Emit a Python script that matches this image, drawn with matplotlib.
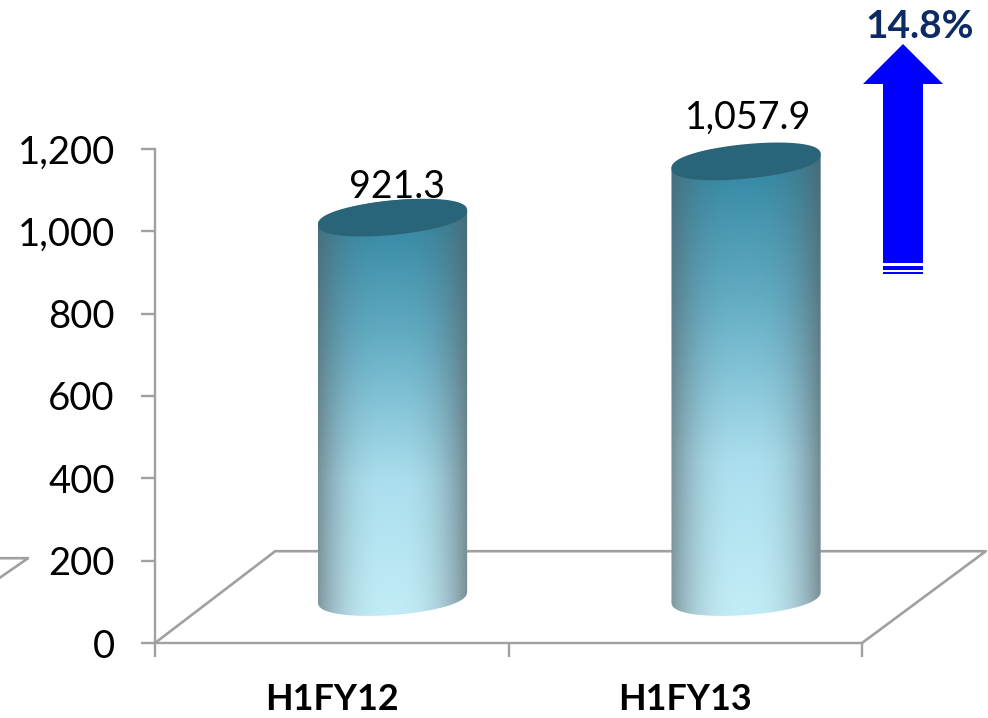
import numpy as np
import matplotlib
matplotlib.use("Agg")
import matplotlib.pyplot as plt
from matplotlib.patches import Polygon
from matplotlib.colors import LinearSegmentedColormap

plt.rcParams["font.family"] = ["Lato", "DejaVu Sans"]

categorias = ["H1FY12", "H1FY13"]
valores = [921.3, 1057.9]
etiquetas = ["921.3", "1,057.9"]
yticks = [0, 200, 400, 600, 800, 1000, 1200]
crecimiento = "14.8%"

W, H = 988, 718
GRIS = "#a0a0a0"
# desplazamiento "3D" de las barras y del suelo, en unidades de los ejes
BAR_DX, BAR_DY = 0.172, 112
FLOOR_DX, FLOOR_DY = 0.34, 223
ANCHO = 0.422
RY_TOP, RY_BASE = 42, 44
SHEAR_TOP, SHEAR_BASE = 17, 13


def px(x, y):
    return (x / W, 1 - y / H)


def sp(a, e=0.85):
    # coseno "inflado" para que la elipse quede mas redonda
    return np.sign(a) * np.abs(a) ** e


fig = plt.figure(figsize=(W / 100, H / 100), dpi=100)
ax = fig.add_axes([155 / W, 1 - 643 / H, (862 - 155) / W, (643 - 149) / H])

for s in ("top", "right"):
    ax.spines[s].set_visible(False)
for s in ("left", "bottom"):
    ax.spines[s].set_color(GRIS)
    ax.spines[s].set_linewidth(1.7)
ax.set_yticks(yticks)
ax.set_yticklabels([f"{v:,}" for v in yticks], fontsize=27.5)
ax.set_xticks([0, 1, 2])
ax.set_xticklabels([])
ax.tick_params(axis="both", color=GRIS, width=1.7, length=10)
ax.tick_params(axis="y", pad=19)

# suelo
ax.plot([0, FLOOR_DX, 2 + FLOOR_DX * 1.03, 2], [0, FLOOR_DY, FLOOR_DY, 0],
        color=GRIS, lw=1.9, clip_on=False, zorder=1)
ax.plot([-0.44, -0.359, -0.44], [206, 206, 158], color=GRIS, lw=1.9, clip_on=False, zorder=1)

# textura del cilindro
ny, nx = 300, 200
v = np.linspace(0, 1, ny)[:, None]  # 0 abajo
u = np.linspace(-1, 1, nx)[None, :]
cmap = LinearSegmentedColormap.from_list("cil", ["#c3edf8", "#abdfee", "#62acc3", "#2a7f9b"])
base = cmap(v * np.ones((ny, nx)))[:, :, :3]
borde = (1 - np.abs(u + 0.02) ** 2.6)
sombra = 0.38 + 0.62 * borde
tinte = np.array([0.36, 0.40, 0.42])
tex = base * sombra[:, :, None] + tinte * (1 - sombra[:, :, None]) * 0.9
tex = np.clip(tex, 0, 1)

t = np.linspace(0, 2 * np.pi, 200)
desfase = [(4, 31), (2, 44)]
for i, val in enumerate(valores):
    xc = i + 0.5 + BAR_DX
    y0 = BAR_DY
    y1 = BAR_DY + val
    rx = ANCHO / 2
    # contorno: elipse inferior + lados + centro de la superior
    tb = np.linspace(np.pi, 2 * np.pi, 80)
    xb = xc + rx * np.cos(tb)
    yb = y0 + RY_BASE * sp(np.sin(tb)) + SHEAR_BASE * np.cos(tb)
    tt = np.linspace(0, np.pi, 80)
    xt = xc + rx * np.cos(tt)
    yt = y1 + RY_TOP * np.sin(tt) + SHEAR_TOP * np.cos(tt)
    cuerpo = Polygon(np.column_stack([np.r_[xb, xt], np.r_[yb, yt]]), closed=True,
                     transform=ax.transData, fc="none", ec="none")
    ax.add_patch(cuerpo)
    im = ax.imshow(tex, extent=[xc - rx, xc + rx, y0 - 70, y1 + 70],
                   origin="lower", aspect="auto", zorder=3, interpolation="bilinear")
    im.set_clip_path(cuerpo)
    ax.fill(xc + rx * np.cos(t), y1 + RY_TOP * sp(np.sin(t)) + SHEAR_TOP * np.cos(t),
            color="#2a6479", zorder=4, clip_on=False, lw=0)
    ax.annotate(etiquetas[i], (xc, y1), xytext=desfase[i],
                textcoords="offset pixels", ha="center", va="center",
                fontsize=27, color="black", zorder=5, annotation_clip=False)
    ax.text(i + 0.5, -57 / (643 - 149), categorias[i], transform=ax.get_xaxis_transform(),
            ha="center", va="center", fontsize=25.8, fontweight="bold", color="black")

ax.set_xlim(0, 2)
ax.set_ylim(0, 1200)

# flecha de crecimiento
flecha = [(903, 44), (943, 84), (923, 84), (923, 274), (883, 274), (883, 84), (863, 84)]
fig.add_artist(Polygon([px(*p) for p in flecha], closed=True, fc="#0000ff", ec="none",
                       transform=fig.transFigure))
for y_a, y_b in [(263, 265.5), (270, 272)]:
    fig.add_artist(Polygon([px(882, y_a), px(924, y_a), px(924, y_b), px(882, y_b)], closed=True,
                           fc="white", ec="none", transform=fig.transFigure))
fig.text(*px(920, 27), crecimiento, ha="center", va="center", fontsize=28, fontweight="bold",
         color="#0c2a64")

fig.savefig("out.png", dpi=100)
